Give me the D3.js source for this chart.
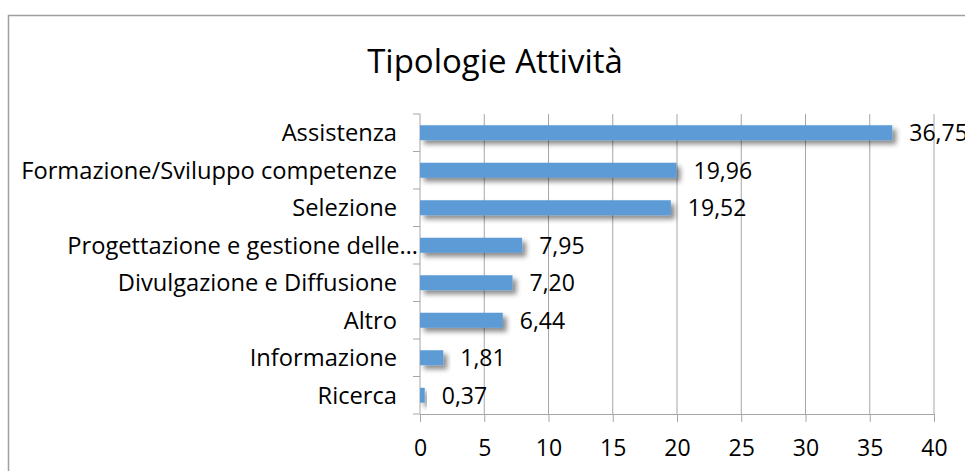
<!DOCTYPE html>
<html>
<head>
<meta charset="utf-8">
<script src="https://cdn.jsdelivr.net/npm/d3@7"></script>
<style>
  body { margin: 0; background: #fff; }
  svg text { font-family: "Open Sans", sans-serif; fill: #000; }
</style>
</head>
<body>
<svg id="vis_canvas" width="965" height="471"></svg>
<script>
var chart_title = "Tipologie Attività";
var categories = ["Assistenza", "Formazione/Sviluppo competenze", "Selezione",
    "Progettazione e gestione delle…", "Divulgazione e Diffusione", "Altro",
    "Informazione", "Ricerca"];
var values = [36.75, 19.96, 19.52, 7.95, 7.20, 6.44, 1.81, 0.37];
var x_ticks = [0, 5, 10, 15, 20, 25, 30, 35, 40];

var svg = d3.select("#vis_canvas");

// drop shadow under the bars
var defs = svg.append("defs");
var filter = defs.append("filter").attr("id", "shadow")
    .attr("x", "-20%").attr("y", "-50%").attr("width", "150%").attr("height", "250%");
filter.append("feDropShadow")
    .attr("dx", 4).attr("dy", 4).attr("stdDeviation", 2.5)
    .attr("flood-color", "#000").attr("flood-opacity", 0.45);

// chart frame
svg.append("rect")
    .attr("x", 8.5).attr("y", 15.5)
    .attr("width", 970).attr("height", 470)
    .attr("fill", "none").attr("stroke", "#a0a0a0").attr("stroke-width", 1.5);

svg.append("text")
    .attr("x", 495).attr("y", 73)
    .attr("text-anchor", "middle")
    .style("font-size", "33px")
    .text(chart_title);

var x = d3.scaleLinear().domain([0, 40]).range([420, 934]);
var y = d3.scaleBand().domain(categories).range([114, 414])
    .paddingInner(0.6).paddingOuter(0.3);

// gridlines
svg.append("g").selectAll("line").data(x_ticks.slice(1)).enter().append("line")
    .attr("x1", function(d) { return x(d); }).attr("x2", function(d) { return x(d); })
    .attr("y1", 114).attr("y2", 414)
    .attr("stroke", "#a6a6a6").attr("stroke-width", 1);

// bottom axis
var xAxis = svg.append("g")
    .attr("transform", "translate(0,414)")
    .call(d3.axisBottom(x).tickValues(x_ticks).tickSize(8).tickSizeOuter(0)
        .tickFormat(d3.format("d")));
xAxis.select(".domain").attr("stroke", "#a6a6a6");
xAxis.selectAll(".tick line").attr("stroke", "#a6a6a6");
xAxis.selectAll(".tick text").attr("y", 26).style("font-size", "23px")
    .style("font-family", "'Open Sans', sans-serif");

// left axis: line plus ticks at band boundaries
var step = y.step();
var bounds = d3.range(categories.length + 1).map(function(i) { return 114 + i * step; });
svg.append("line")
    .attr("x1", 420).attr("x2", 420).attr("y1", 114).attr("y2", 414)
    .attr("stroke", "#a6a6a6");
svg.append("g").selectAll("line").data(bounds).enter().append("line")
    .attr("x1", 413).attr("x2", 420)
    .attr("y1", function(d) { return d; }).attr("y2", function(d) { return d; })
    .attr("stroke", "#a6a6a6");

// truncated label runs a bit further right, as in the original
svg.append("g").selectAll("text").data(categories).enter().append("text")
    .attr("x", function(d) { return d.slice(-1) == "…" ? 418 : 397; })
    .attr("y", function(d) { return y(d) + y.bandwidth() / 2; })
    .attr("dy", "0.36em")
    .attr("text-anchor", "end")
    .style("font-size", "23.7px")
    .text(function(d) { return d; });

// bars
svg.append("g").selectAll("rect").data(values).enter().append("rect")
    .attr("x", x(0))
    .attr("y", function(d, i) { return y(categories[i]); })
    .attr("width", function(d) { return x(d) - x(0); })
    .attr("height", y.bandwidth())
    .attr("fill", "#5b9bd5")
    .attr("filter", "url(#shadow)");

// value labels
var fmt = function(v) { return v.toFixed(2).replace(".", ","); };
svg.append("g").selectAll("text").data(values).enter().append("text")
    .attr("x", function(d) { return x(d) + 17; })
    .attr("y", function(d, i) { return y(categories[i]) + y.bandwidth() / 2; })
    .attr("dy", "0.36em")
    .style("font-size", "23px")
    .text(fmt);
</script>
</body>
</html>
